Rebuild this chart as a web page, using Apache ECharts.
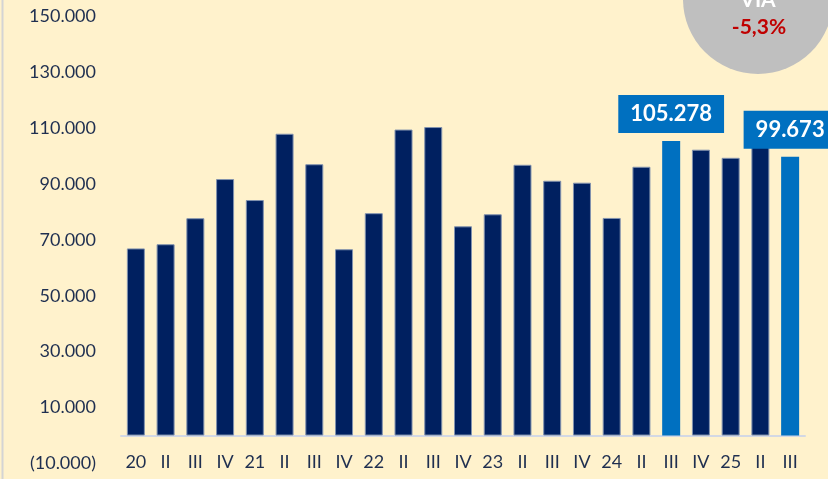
<!DOCTYPE html>
<html>
<head>
<meta charset="utf-8">
<script src="https://cdn.jsdelivr.net/npm/echarts@6/dist/echarts.min.js"></script>
<style>
  html, body { margin: 0; padding: 0; background: #FFF2CC; }
  #chart { width: 828px; height: 479px; }
</style>
</head>
<body>
<div id="chart"></div>
<script>
// quarters 2020 .. 2025 Q3
const categories = ['20', 'II', 'III', 'IV', '21', 'II', 'III', 'IV', '22', 'II', 'III', 'IV',
                    '23', 'II', 'III', 'IV', '24', 'II', 'III', 'IV', '25', 'II', 'III'];
const values = [66900, 68400, 77700, 91700, 84200, 107900, 97000, 66600, 79500, 109400, 110300, 74800,
                79100, 96800, 91100, 90400, 77800, 96100, 105278, 102200, 99300, 104500, 99673];
const highlighted = [18, 22];   // III 24 and III 25
const yTicks = { min: -10000, max: 150000, step: 20000 };
const badge = { top: 'VIA', value: '-5,3%' };

const navy = '#002060';
const blue = '#0070C0';

function fmt(v) {
    const s = Math.abs(v).toString().replace(/\B(?=(\d{3})+(?!\d))/g, '.');
    return v < 0 ? '(' + s + ')' : s;
}

const barData = values.map(function (v, i) {
    if (highlighted.indexOf(i) >= 0) {
        return {
            value: v,
            itemStyle: { color: blue, borderWidth: 0 },
            label: {
                show: true,
                position: 'top',
                distance: 8,
                formatter: function (p) { return fmt(p.value); },
                color: '#fff',
                fontFamily: 'Lato',
                fontWeight: 'bold',
                fontSize: 22,
                backgroundColor: blue,
                padding: [8, 12, 8, 12]
            }
        };
    }
    return v;
});

const chart = echarts.init(document.getElementById('chart'));
chart.setOption({
    backgroundColor: '#FFF2CC',
    animation: false,
    grid: { left: 121, right: 23, top: 16, bottom: 15.5, containLabel: false, outerBoundsMode: 'none' },
    xAxis: {
        type: 'category',
        data: categories,
        axisLine: { onZero: true, lineStyle: { color: '#D3D8E4', width: 2 } },
        axisTick: { show: false },
        axisLabel: {
            interval: 0,
            margin: -10,
            color: '#1F2F50',
            fontFamily: 'Lato',
            fontSize: 18
        }
    },
    yAxis: {
        type: 'value',
        min: yTicks.min,
        max: yTicks.max,
        interval: yTicks.step,
        splitLine: { show: false },
        axisLine: { show: false },
        axisTick: { show: false },
        axisLabel: {
            margin: 25,
            color: '#1F2F50',
            fontFamily: 'Lato',
            fontSize: 18,
            formatter: fmt
        }
    },
    series: [{
        type: 'bar',
        barWidth: 18,
        data: barData,
        itemStyle: { color: navy, borderColor: '#8192AE', borderWidth: 1 }
    }],
    graphic: [
        { type: 'line', shape: { x1: 2.5, y1: 0, x2: 2.5, y2: 479 },
          style: { stroke: '#D4D4D4', lineWidth: 2 } },
        { type: 'circle', shape: { cx: 758, cy: -1, r: 75 }, style: { fill: '#BFBFBF' } },
        { type: 'text', x: 758, y: 0,
          style: { text: badge.top, fill: '#fff', font: 'bold 21px Lato', align: 'center', verticalAlign: 'middle' } },
        { type: 'text', x: 759, y: 27,
          style: { text: badge.value, fill: '#C00000', font: 'bold 21px Lato', align: 'center', verticalAlign: 'middle' } }
    ]
});

window.addEventListener('resize', function () {
    chart.resize();
});
</script>
</body>
</html>
